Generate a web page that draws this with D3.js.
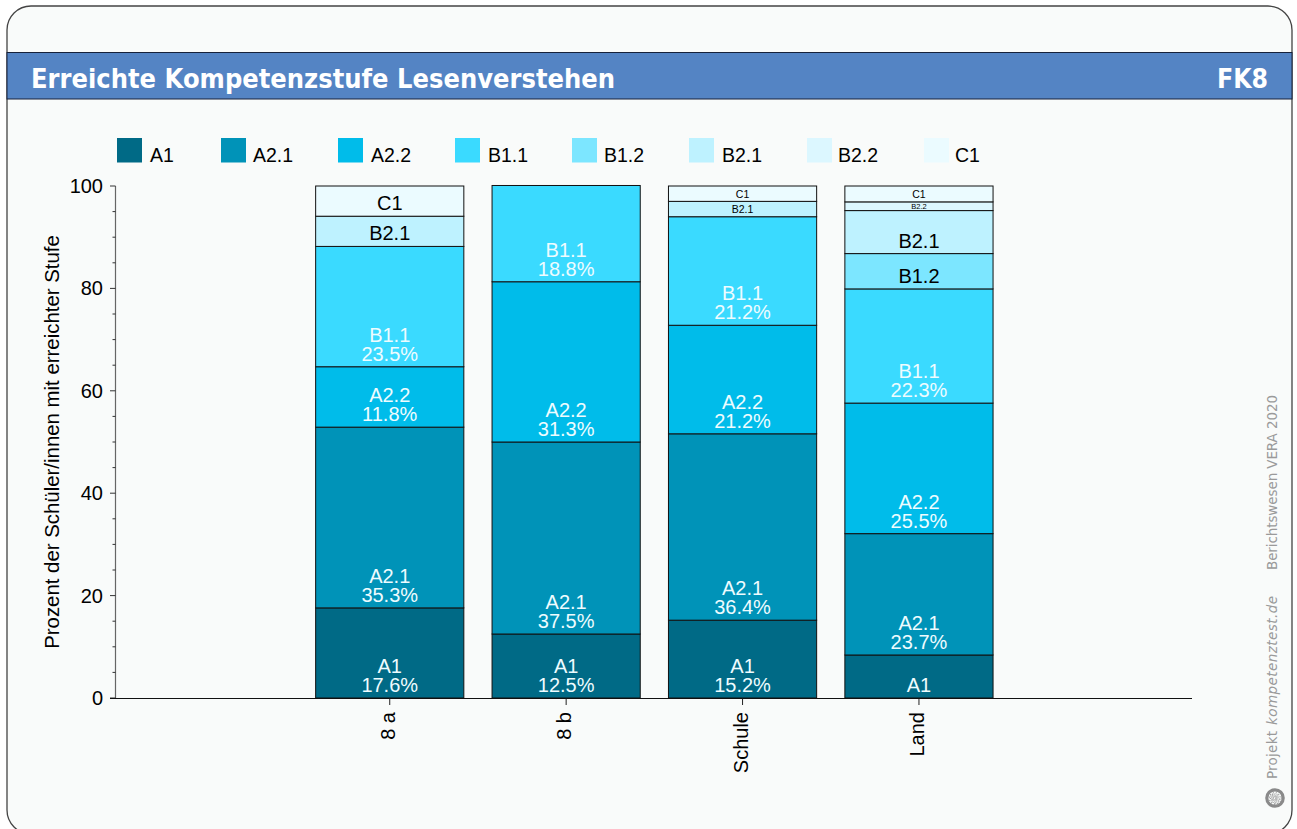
<!DOCTYPE html>
<html><head><meta charset="utf-8">
<script src="https://cdn.jsdelivr.net/npm/d3@7"></script>
<style>html,body{margin:0;padding:0;background:#fff;overflow:hidden}svg{display:block}
text{font-family:"Liberation Sans",Arial,sans-serif}</style></head>
<body><div id="c"></div>
<script>
const levels=["A1","A2.1","A2.2","B1.1","B1.2","B2.1","B2.2","C1"];
const levelColors=["#006a86","#0093b8","#00bcea","#3adaff","#7ce6ff","#bef2ff","#dcf7ff","#ebfbff"];
const groups=["8 a","8 b","Schule","Land"];
const valuesA1=[17.6,12.5,15.2,8.4];
const valuesA21=[35.3,37.5,36.4,23.7];
const valuesA22=[11.8,31.3,21.2,25.5];
const valuesB11=[23.5,18.8,21.2,22.3];
const valuesB12=[0,0,0,6.9];
const valuesB21=[5.9,0,3.0,8.4];
const valuesB22=[0,0,0,1.7];
const valuesC1=[5.9,0,3.0,3.1];
const series=[valuesA1,valuesA21,valuesA22,valuesB11,valuesB12,valuesB21,valuesB22,valuesC1];
const yTicks=[0,20,40,60,80,100];
const yMinor=d3.range(0,101,5);
const legendSwatchX=[117,221,338,455,572,689,807,924];
const legendLabelX=[150,253,371,488,604,722,838,955];
const W=1297,H=829;
const svg=d3.select("#c").append("svg").attr("width",W).attr("height",H);
// panel
svg.append("rect").attr("x",7).attr("y",6).attr("width",1285).attr("height",828).attr("rx",24)
 .attr("fill","#f9fbfa").attr("stroke","#444").attr("stroke-width",1.3);
svg.append("rect").attr("x",7).attr("y",52.5).attr("width",1285).attr("height",46.5)
 .attr("fill","#5484c4").attr("stroke","#16213a").attr("stroke-width",1);
svg.append("text").attr("x",31).attr("y",88).attr("fill","#fff").attr("font-size",26).attr("font-weight","bold")
 .style("font-family","'DejaVu Sans'").attr("textLength",584).attr("lengthAdjust","spacingAndGlyphs").text("Erreichte Kompetenzstufe Lesenverstehen");
svg.append("text").attr("x",1268).attr("y",88).attr("text-anchor","end").attr("fill","#fff").attr("font-size",26).attr("font-weight","bold")
 .style("font-family","'DejaVu Sans'").attr("textLength",51).attr("lengthAdjust","spacingAndGlyphs").text("FK8");
// scales
const y=d3.scaleLinear().domain([0,100]).range([698,186]);
const x=d3.scaleBand().domain(groups).range([115.6,1193.1]).paddingInner(0.16).paddingOuter(1.134);
// legend
const leg=svg.append("g").selectAll("g").data(levels).join("g");
leg.append("rect").attr("x",(d,i)=>legendSwatchX[i]).attr("y",138).attr("width",25).attr("height",24.5).attr("fill",(d,i)=>levelColors[i]);
leg.append("text").attr("x",(d,i)=>legendLabelX[i]).attr("y",162).attr("font-size",19.5).attr("fill","#000").text(d=>d);
// axes
const axisG=svg.append("g");
axisG.append("line").attr("x1",115.5).attr("x2",115.5).attr("y1",y(100)).attr("y2",y(0)).attr("stroke","#666").attr("stroke-width",1.2);
axisG.selectAll(".mi").data(yMinor).join("line").attr("x1",d=>d%20===0?110:112.5).attr("x2",115.5)
 .attr("y1",d=>y(d)).attr("y2",d=>y(d)).attr("stroke","#333").attr("stroke-width",1);
axisG.selectAll(".yl").data(yTicks).join("text").attr("x",103).attr("y",d=>y(d)+7).attr("text-anchor","end").attr("font-size",20).text(d=>d);
axisG.append("line").attr("x1",110).attr("x2",1192).attr("y1",698.5).attr("y2",698.5).attr("stroke","#111").attr("stroke-width",1);
axisG.selectAll(".xt").data(groups).join("line").attr("x1",d=>x(d)+x.bandwidth()/2).attr("x2",d=>x(d)+x.bandwidth()/2)
 .attr("y1",698).attr("y2",705).attr("stroke","#222");
axisG.selectAll(".xl").data(groups).join("text")
 .attr("transform",d=>`translate(${x(d)+x.bandwidth()/2+5},712) rotate(-90)`).attr("text-anchor","end").attr("font-size",20).text(d=>d);
svg.append("text").attr("transform","translate(58.5,442) rotate(-90)").attr("text-anchor","middle").attr("font-size",20.4).text("Prozent der Schüler/innen mit erreichter Stufe");
// stacked bars
groups.forEach((g,gi)=>{
  let cum=0;
  series.forEach((s,li)=>{
    const v=s[gi]; if(!v) return;
    const y0=cum, y1=cum+v; cum+=v;
    svg.append("rect").attr("x",x(g)).attr("width",x.bandwidth()).attr("y",y(y1)).attr("height",y(y0)-y(y1))
      .attr("fill",levelColors[li]).attr("stroke","#111").attr("stroke-width",1);
    const h=y(y0)-y(y1);
    const cx=x(g)+x.bandwidth()/2;
    const dark=li<=3;
    const col=dark?"#eefcff":"#000";
    const fs=h>=25?20:(h>=14?10.5:(h>=10?9:7.5));
    if(v>=10){
      svg.append("text").attr("x",cx).attr("y",y(y0)-25).attr("text-anchor","middle").attr("font-size",20).attr("fill",col).text(levels[li]);
      svg.append("text").attr("x",cx).attr("y",y(y0)-6).attr("text-anchor","middle").attr("font-size",20).attr("fill",col).text(s[gi].toFixed(1)+"%");
    } else {
      const by=h>=25?y(y0)-6:y(y0)-(h-fs)/2-1;
      svg.append("text").attr("x",cx).attr("y",by).attr("text-anchor","middle").attr("font-size",fs).attr("fill",col).text(levels[li]);
    }
  });
});
// credits
const creditFont="'DejaVu Sans'";
svg.append("text").attr("transform","translate(1277,570) rotate(-90)").attr("font-size",13.5).attr("fill","#9a9a9a").style("font-family",creditFont).attr("textLength",175).text("Berichtswesen VERA 2020");
svg.append("text").attr("transform","translate(1277,779) rotate(-90)").attr("font-size",13.5).attr("fill","#9a9a9a").style("font-family",creditFont).attr("textLength",48).text("Projekt");
svg.append("text").attr("transform","translate(1277,725) rotate(-90)").attr("font-size",13.5).attr("font-style","italic").attr("fill","#9a9a9a").style("font-family",creditFont).attr("textLength",129).text("kompetenztest.de");
// spiral logo
const logo=svg.append("g").attr("transform","translate(1275,798)");
logo.append("circle").attr("r",8.2).attr("fill","none").attr("stroke","#8a8a8a").attr("stroke-width",3.2);
d3.range(0,60).forEach(i=>{const a=i*0.55,r=6.2*(1-i/70);
 logo.append("circle").attr("cx",r*Math.cos(a)).attr("cy",r*Math.sin(a)).attr("r",0.55).attr("fill",i<20?"#777":"#aaa");});
</script></body></html>
